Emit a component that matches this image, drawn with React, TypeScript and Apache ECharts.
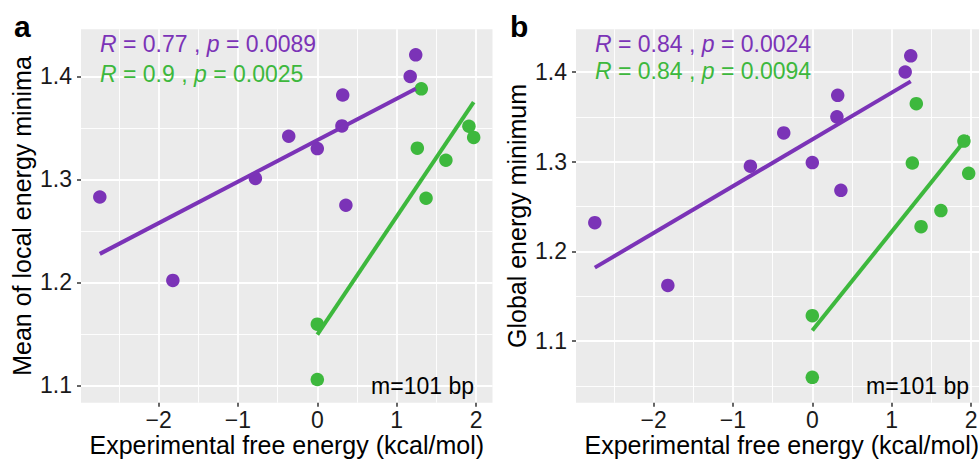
import React, { useEffect, useRef } from "react";
import * as echarts from "echarts";

// ---- data ----
const xPurple = [-2.74, -1.82, -0.78, -0.36, 0, 0.31, 0.32, 0.36, 1.17, 1.24];
const yPurpleA = [1.283, 1.202, 1.301, 1.342, 1.33, 1.352, 1.382, 1.275, 1.4, 1.421];
const yPurpleB = [1.232, 1.162, 1.295, 1.332, 1.299, 1.35, 1.374, 1.268, 1.4, 1.418];

const xGreen = [0, 0, 1.26, 1.31, 1.37, 1.62, 1.91, 1.97];
const yGreenA = [1.1595, 1.1058, 1.3304, 1.388, 1.2818, 1.3187, 1.3517, 1.3408];
const yGreenB = [1.1283, 1.0595, 1.2985, 1.3647, 1.2275, 1.2454, 1.323, 1.287];

// fitted line end points (x, y)
const fitPurpleA = [[-2.74, 1.2278], [1.24, 1.388]];
const fitGreenA = [[0, 1.1495], [1.97, 1.3752]];
const fitPurpleB = [[-2.74, 1.1818], [1.24, 1.3895]];
const fitGreenB = [[0, 1.1118], [1.97, 1.3288]];

const xTicks = [-2, -1, 0, 1, 2];
const yTicks = [1.1, 1.2, 1.3, 1.4];

const statsA = [
  { R: "0.77", p: "0.0089" },
  { R: "0.9", p: "0.0025" },
];
const statsB = [
  { R: "0.84", p: "0.0024" },
  { R: "0.84", p: "0.0094" },
];

const xRange = [-2.977, 2.207];
const yRangeA = [1.0833, 1.4458];
const yRangeB = [1.0312, 1.4476];

const PURPLE = "#7B33B7";
const GREEN = "#3DB83D";
const FONT = '"Liberation Sans", Arial, Helvetica, sans-serif';

const zip = (xs: number[], ys: number[]) => xs.map((x, i) => [x, ys[i]]);

function xAxisCfg(gridIndex: number) {
  return {
    type: "value",
    gridIndex,
    min: xRange[0],
    max: xRange[1],
    minInterval: 1,
    maxInterval: 1,
    name: "Experimental free energy (kcal/mol)",
    nameLocation: "middle",
    nameGap: 30,
    nameMoveOverlap: false,
    nameTextStyle: { fontFamily: FONT, fontSize: 25, color: "#000" },
    axisLine: { show: false, onZero: false },
    axisTick: {
      show: true,
      length: 4,
      customValues: xTicks,
      lineStyle: { color: "#333", width: 1.5 },
    },
    minorTick: { show: false, splitNumber: 2 },
    axisLabel: {
      customValues: xTicks,
      margin: 6,
      fontFamily: FONT,
      fontSize: 23,
      color: "#1a1a1a",
      formatter: (v: number) => String(v).replace("-", "\u2212"),
    },
    splitLine: { show: true, lineStyle: { color: "#fff", width: 1.8 } },
    minorSplitLine: { show: true, lineStyle: { color: "#fff", width: 0.9 } },
  };
}

function yAxisCfg(gridIndex: number, range: number[], name: string) {
  return {
    type: "value",
    gridIndex,
    min: range[0],
    max: range[1],
    minInterval: 0.1,
    maxInterval: 0.1,
    name,
    nameLocation: "middle",
    nameGap: 47,
    nameMoveOverlap: false,
    nameTextStyle: { fontFamily: FONT, fontSize: 25, color: "#000" },
    axisLine: { show: false, onZero: false },
    axisTick: {
      show: true,
      length: 4,
      customValues: yTicks,
      lineStyle: { color: "#333", width: 1.5 },
    },
    minorTick: { show: false, splitNumber: 2 },
    axisLabel: {
      customValues: yTicks,
      margin: 9,
      fontFamily: FONT,
      fontSize: 23,
      color: "#1a1a1a",
      formatter: (v: number) => v.toFixed(1),
    },
    splitLine: { show: true, lineStyle: { color: "#fff", width: 1.8 } },
    minorSplitLine: { show: true, lineStyle: { color: "#fff", width: 0.9 } },
  };
}

function scatter(gi: number, data: number[][], color: string) {
  return {
    type: "scatter",
    xAxisIndex: gi,
    yAxisIndex: gi,
    data,
    symbol: "circle",
    symbolSize: 13.5,
    itemStyle: { color, opacity: 1 },
    z: 2,
  };
}

function fit(gi: number, data: number[][], color: string) {
  return {
    type: "line",
    xAxisIndex: gi,
    yAxisIndex: gi,
    data,
    showSymbol: false,
    symbol: "none",
    lineStyle: { color, width: 4, cap: "butt" },
    z: 3,
  };
}

function statText(x: number, y: number, s: { R: string; p: string }, color: string) {
  return {
    type: "text",
    x,
    y,
    style: {
      text: `{i|R} = ${s.R} , {i|p} = ${s.p}`,
      fill: color,
      fontFamily: FONT,
      fontSize: 23,
      textAlign: "left",
      textVerticalAlign: "middle",
      verticalAlign: "middle",
      rich: {
        i: { fontStyle: "italic", fill: color, fontFamily: FONT, fontSize: 23 },
      },
    },
    z: 10,
  };
}

function plainText(x: number, y: number, text: string, opts: any) {
  return {
    type: "text",
    x,
    y,
    style: {
      text,
      fill: "#000",
      fontFamily: FONT,
      textVerticalAlign: "middle",
      verticalAlign: "middle",
      ...opts,
    },
    z: 10,
  };
}

export default function App() {
  const ref = useRef<HTMLDivElement>(null);

  useEffect(() => {
    document.body.style.margin = "0";
    if (!ref.current) return;
    const chart = echarts.init(ref.current, undefined, { renderer: "svg" });
    const gridBase = {
      top: 29.3,
      height: 373.4,
      width: 411.5,
      show: true,
      backgroundColor: "#EBEBEB",
      borderWidth: 0,
      containLabel: false,
      outerBoundsMode: "none",
    };
    chart.setOption({
      animation: false,
      backgroundColor: "#fff",
      grid: [
        { ...gridBase, left: 81 },
        { ...gridBase, left: 576 },
      ],
      xAxis: [xAxisCfg(0), xAxisCfg(1)],
      yAxis: [
        yAxisCfg(0, yRangeA, "Mean of local energy minima"),
        yAxisCfg(1, yRangeB, "Global energy minimum"),
      ],
      series: [
        scatter(0, zip(xPurple, yPurpleA), PURPLE),
        scatter(0, zip(xGreen, yGreenA), GREEN),
        fit(0, fitPurpleA, PURPLE),
        fit(0, fitGreenA, GREEN),
        scatter(1, zip(xPurple, yPurpleB), PURPLE),
        scatter(1, zip(xGreen, yGreenB), GREEN),
        fit(1, fitPurpleB, PURPLE),
        fit(1, fitGreenB, GREEN),
      ],
      graphic: [
        statText(100, 43.8, statsA[0], PURPLE),
        statText(100, 74.3, statsA[1], GREEN),
        statText(595, 43.8, statsB[0], PURPLE),
        statText(595, 71.4, statsB[1], GREEN),
        plainText(474, 386, "m=101 bp", { fontSize: 23, textAlign: "right", align: "right" }),
        plainText(969, 386, "m=101 bp", { fontSize: 23, textAlign: "right", align: "right" }),
        plainText(14, 26.5, "a", { fontSize: 30, fontWeight: "bold", textAlign: "left" }),
        plainText(510, 26.5, "b", { fontSize: 30, fontWeight: "bold", textAlign: "left" }),
      ],
    });
    return () => chart.dispose();
  }, []);

  return <div ref={ref} style={{ width: 979, height: 459 }} />;
}
